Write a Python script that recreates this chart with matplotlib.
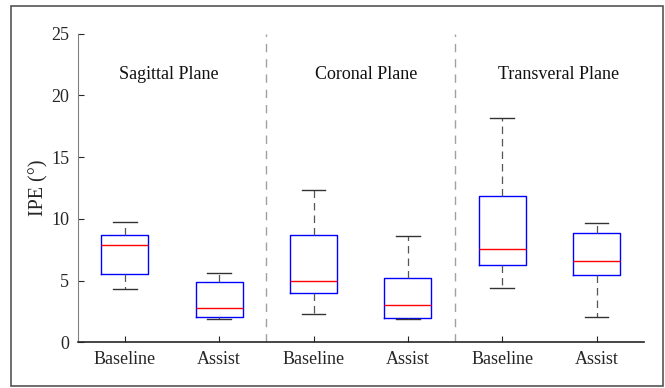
import matplotlib
matplotlib.use('Agg')
import matplotlib.pyplot as plt
from matplotlib.patches import Rectangle

plt.rcParams['font.family'] = ['Liberation Serif', 'DejaVu Serif']

#------------ IPE summary values (deg) per plane / condition ------------
groups = ['Baseline', 'Assist', 'Baseline', 'Assist', 'Baseline', 'Assist']
planes = ['Sagittal Plane', 'Coronal Plane', 'Transveral Plane']
whislo = [4.33, 1.89, 2.30, 1.89, 4.41, 2.06]
q1     = [5.57, 2.06, 4.00, 1.95, 6.28, 5.44]
med    = [7.90, 2.79, 5.00, 3.00, 7.58, 6.57]
q3     = [8.69, 4.87, 8.69, 5.19, 11.82, 8.85]
whishi = [9.74, 5.65, 12.34, 8.60, 18.15, 9.66]

stats = []
for i in range(len(groups)):
    stats.append(dict(label=groups[i], whislo=whislo[i], q1=q1[i], med=med[i],
                      q3=q3[i], whishi=whishi[i], fliers=[]))

fig = plt.figure(figsize=(6.65, 3.88), dpi=100)
ax = fig.add_axes([0.1168, 0.1178, 0.8512, 0.7955])

ax.bxp(stats, positions=range(1, 7), widths=0.5, showfliers=False,
       boxprops=dict(color='#0000ff', linewidth=1.0),
       medianprops=dict(color='#ff0000', linewidth=1.0),
       whiskerprops=dict(color='#555555', linewidth=0.9, linestyle=(0, (6, 4))),
       capprops=dict(color='#333333', linewidth=1.0),
       capwidths=0.25)

# separators between planes
for xs in [2.5, 4.5]:
    ax.axvline(xs, color='#a0a0a0', linewidth=1.0, linestyle=(0, (6, 5)))

# plane names
for xp, name in zip([1.47, 3.56, 5.6], planes):
    ax.text(xp, 21.65, name, ha='center', va='center', fontsize=13, color='#111111')

ax.set_xlim(0.5, 6.5)
ax.set_ylim(0, 25)
ax.set_yticks([0, 5, 10, 15, 20, 25])
ax.set_xticks(range(1, 7))
ax.set_xticklabels(groups)
ax.set_ylabel('IPE (°)', fontsize=14.5, color='#262626', labelpad=2)
ax.tick_params(direction='in', length=4, labelsize=13, colors='#262626', pad=6)

ax.spines['top'].set_visible(False)
ax.spines['right'].set_visible(False)
ax.spines['left'].set_color('#808080')
ax.spines['bottom'].set_color('#262626')
ax.spines['bottom'].set_linewidth(1.2)

# outer frame
fig.patches.append(Rectangle((11/665, 2/388), 652/665, 380/388, transform=fig.transFigure,
                             fill=False, edgecolor='#555555', linewidth=1.2))

fig.savefig('out.png', dpi=100)
